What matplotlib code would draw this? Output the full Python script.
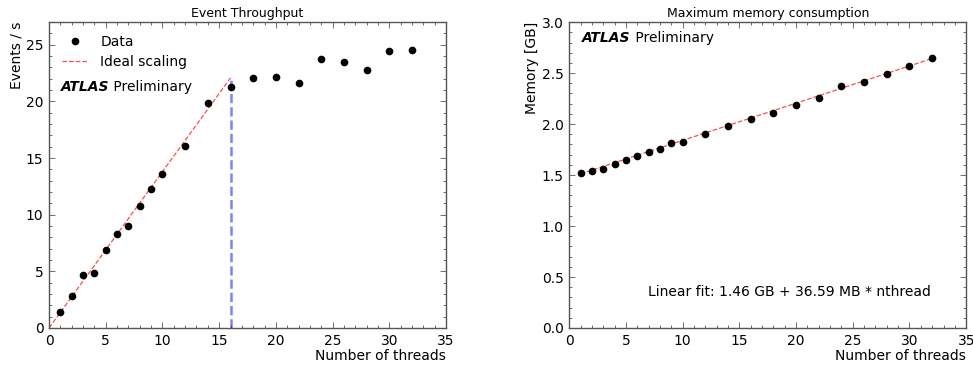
import matplotlib
matplotlib.use("Agg")
import matplotlib.pyplot as plt
import numpy as np
from matplotlib.ticker import MultipleLocator

# thread counts
nthreads = [1, 2, 3, 4, 5, 6, 7, 8, 9, 10, 12, 14, 16, 18, 20, 22, 24, 26, 28, 30, 32]
# events per second
throughput = [1.38, 2.85, 4.68, 4.88, 6.88, 8.26, 8.97, 10.74, 12.24, 13.56, 16.03,
              19.82, 21.24, 22.03, 22.15, 21.59, 23.71, 23.50, 22.74, 24.47, 24.56]
# max memory in GB
memory = [1.523, 1.539, 1.562, 1.608, 1.647, 1.683, 1.725, 1.752, 1.814, 1.820, 1.905,
          1.977, 2.049, 2.108, 2.190, 2.252, 2.376, 2.408, 2.487, 2.565, 2.650]

ideal_per_thread = 1.38   # throughput of one thread
n_cores = 16
fit_intercept = 1.475     # GB
fit_slope = 0.0365        # GB per thread
fit_label = "Linear fit: 1.46 GB + 36.59 MB * nthread"

plt.rcParams['font.family'] = ['DejaVu Sans']
plt.rcParams['font.size'] = 10

fig = plt.figure(figsize=(9.73, 3.65), dpi=100)
ax1 = fig.add_axes([0.0504, 0.1014, 0.408, 0.838])
ax2 = fig.add_axes([0.585, 0.1014, 0.408, 0.838])


def style(ax):
    ax.tick_params(which='both', direction='in', top=True, right=True, labelsize=10, pad=4)
    ax.tick_params(which='major', length=4, width=0.6, color='#555555')
    ax.tick_params(which='minor', length=2, width=0.6, color='#555555')
    for s in ax.spines.values():
        s.set_color('#555555')
        s.set_linewidth(1.0)


def atlas_label(ax, x, y):
    t = ax.text(x, y, 'ATLAS', transform=ax.transAxes, fontsize=10,
                fontweight='bold', style='italic', va='center')
    ax.annotate(' Preliminary', xy=(1, 0.5), xycoords=t, fontsize=10, va='center')


# left: throughput
ax1.plot(nthreads, throughput, 'o', color='black', markersize=4.5, label='Data', zorder=5)
xi = np.array([0, n_cores])
ax1.plot(xi, ideal_per_thread * xi, '--', color='red', alpha=0.7, lw=0.9, label='Ideal scaling')
ax1.plot([n_cores, n_cores], [0, ideal_per_thread * n_cores], '--', color='blue', alpha=0.5, lw=1.8)
ax1.set_xlim(0, 35)
ax1.set_ylim(0, 27)
ax1.xaxis.set_major_locator(MultipleLocator(5))
ax1.xaxis.set_minor_locator(MultipleLocator(1))
ax1.yaxis.set_major_locator(MultipleLocator(5))
ax1.yaxis.set_minor_locator(MultipleLocator(1))
ax1.set_title('Event Throughput', fontsize=9, pad=4)
ax1.set_xlabel('Number of threads', fontsize=10, loc='right', labelpad=1)
ax1.set_ylabel('Events / s', fontsize=10, loc='top', labelpad=2)
ax1.legend(loc='upper left', frameon=False, numpoints=1, fontsize=10,
           bbox_to_anchor=(0.0, 1.0), handlelength=1.9, handletextpad=0.9,
           borderaxespad=0.5, labelspacing=0.45)
atlas_label(ax1, 0.03, 0.787)
style(ax1)

# right: memory
ax2.plot(nthreads, memory, 'o', color='black', markersize=4.5, zorder=5)
xf = np.array([nthreads[0], nthreads[-1]])
ax2.plot(xf, fit_intercept + fit_slope * xf, '--', color='red', alpha=0.7, lw=0.9)
ax2.set_xlim(0, 35)
ax2.set_ylim(0, 3.0)
ax2.xaxis.set_major_locator(MultipleLocator(5))
ax2.xaxis.set_minor_locator(MultipleLocator(1))
ax2.yaxis.set_major_locator(MultipleLocator(0.5))
ax2.yaxis.set_minor_locator(MultipleLocator(0.1))
ax2.set_title('Maximum memory consumption', fontsize=9, pad=4)
ax2.set_xlabel('Number of threads', fontsize=10, loc='right', labelpad=1)
ax2.set_ylabel('Memory [GB]', fontsize=10, loc='top', labelpad=2)
atlas_label(ax2, 0.033, 0.948)
ax2.text(0.199, 0.118, fit_label, transform=ax2.transAxes, fontsize=10, va='center')
style(ax2)

fig.savefig('out.png', dpi=100)
